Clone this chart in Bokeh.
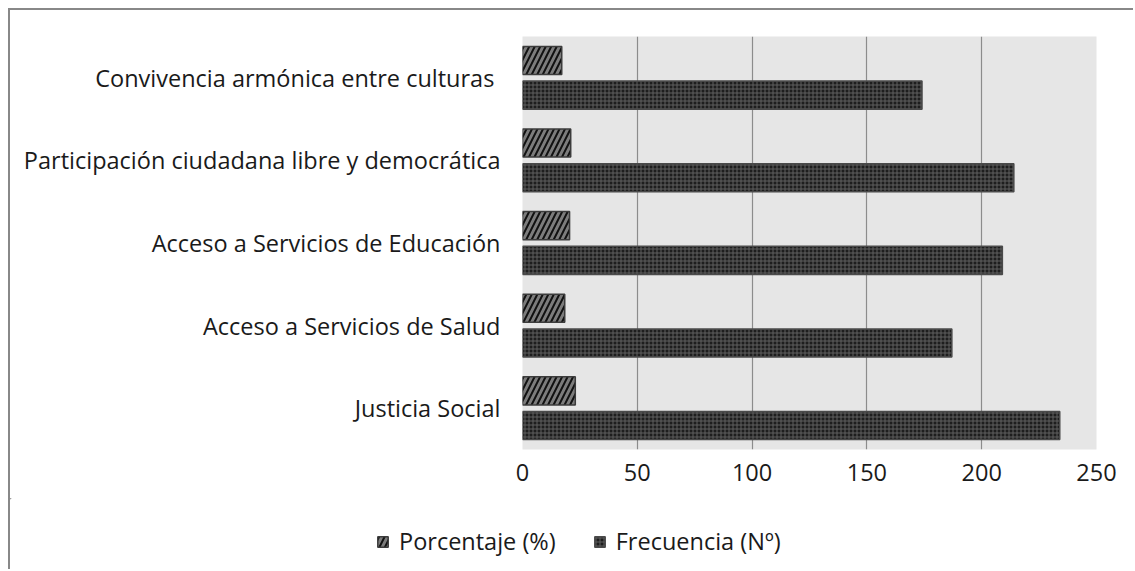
from bokeh.plotting import figure
from bokeh.models import ColumnDataSource, FactorRange, Range1d, FixedTicker, Legend, LegendItem, Spacer
from bokeh.layouts import column, row
from bokeh.transform import dodge
from bokeh.embed import file_html
from bokeh.resources import INLINE

categories = [
    "Convivencia armónica entre  culturas",
    "Participación ciudadana libre y democrática",
    "Acceso a Servicios de Educación",
    "Acceso a Servicios de Salud",
    "Justicia Social",
]
porcentaje = [17.1, 21.0, 20.5, 18.4, 23.0]
frecuencia = [174, 214, 209, 187, 234]
x_ticks = [0, 50, 100, 150, 200, 250]
series_names = ["Porcentaje (%)", "Frecuencia (Nº)"]

source = ColumnDataSource(dict(cat=categories, pct=porcentaje, freq=frecuencia))

FONT = "Open Sans"
FSIZE = "23.5px"
BORDER = "2px solid #888888"

pct_style = dict(fill_color="#7c7c7c", line_color="#3c3c3c", line_width=1.5,
                 hatch_pattern="/", hatch_color="#111111", hatch_scale=11, hatch_weight=2)
freq_style = dict(fill_color="#1e1e1e", line_color="#4a4a4a", line_width=1.5,
                  hatch_pattern="+", hatch_color="#5e5e5e", hatch_scale=4, hatch_weight=1)

p = figure(
    width=1125, height=490,
    y_range=FactorRange(factors=list(reversed(categories))),
    x_range=Range1d(0, 250),
    output_backend="svg", toolbar_location=None,
    min_border_left=512, min_border_right=39,
    min_border_top=26, min_border_bottom=51,
    background_fill_color="#e6e6e6", border_fill_color="white",
    outline_line_color=None,
    styles={"border-top": BORDER, "border-left": BORDER},
)

p.hbar(y=dodge("cat", 0.21, range=p.y_range), left=0, right="pct", height=0.34,
       source=source, **pct_style)
p.hbar(y=dodge("cat", -0.21, range=p.y_range), left=0, right="freq", height=0.34,
       source=source, **freq_style)

p.xgrid.grid_line_color = "#8c8c8c"
p.xgrid.grid_line_width = 1.2
p.xgrid.ticker = FixedTicker(ticks=x_ticks)
p.ygrid.grid_line_color = None

p.xaxis.ticker = FixedTicker(ticks=x_ticks)
p.xaxis.axis_line_color = None
p.xaxis.major_tick_line_color = None
p.xaxis.minor_tick_line_color = None
p.xaxis.major_tick_out = 0
p.xaxis.minor_tick_out = 0
p.xaxis.major_label_standoff = 14
p.xaxis.major_label_text_font = FONT
p.xaxis.major_label_text_font_size = FSIZE
p.xaxis.major_label_text_color = "#1a1a1a"

p.yaxis.axis_line_color = None
p.yaxis.major_tick_line_color = None
p.yaxis.minor_tick_line_color = None
p.yaxis.major_tick_out = 0
p.yaxis.minor_tick_out = 0
p.yaxis.major_label_standoff = 22
p.yaxis.major_label_text_font = FONT
p.yaxis.major_label_text_font_size = FSIZE
p.yaxis.major_label_text_color = "#1a1a1a"

# legend strip below the chart (degenerate proxy renderers, only used for legend swatches)
lp = figure(
    width=1125, height=71, x_range=Range1d(0, 1), y_range=Range1d(0, 1),
    output_backend="svg", toolbar_location=None,
    x_axis_location=None, y_axis_location=None,
    min_border=0, min_border_left=0, min_border_right=0, min_border_top=0, min_border_bottom=0,
    outline_line_color=None, background_fill_color="white", border_fill_color="white",
    styles={"border-left": BORDER},
)
lp.xgrid.visible = False
lp.ygrid.visible = False
proxy = ColumnDataSource(dict(y=[50], right=[-50]))
lr_pct = lp.hbar(y="y", right="right", left=-50, height=0, source=proxy, **pct_style)
lr_freq = lp.hbar(y="y", right="right", left=-50, height=0, source=proxy, **freq_style)

legend = Legend(
    items=[LegendItem(label=series_names[0], renderers=[lr_pct]),
           LegendItem(label=series_names[1], renderers=[lr_freq])],
    orientation="horizontal", location=(366, 12),
    label_text_font=FONT, label_text_font_size=FSIZE, label_text_color="#1a1a1a",
    glyph_width=13, glyph_height=13, label_standoff=10, spacing=37,
    background_fill_alpha=0, border_line_color=None, padding=4, margin=0,
)
lp.add_layout(legend, "center")

layout = column(Spacer(height=8), row(Spacer(width=8), column(p, row(lp))))

open("out.html", "w").write(file_html(layout, INLINE))
